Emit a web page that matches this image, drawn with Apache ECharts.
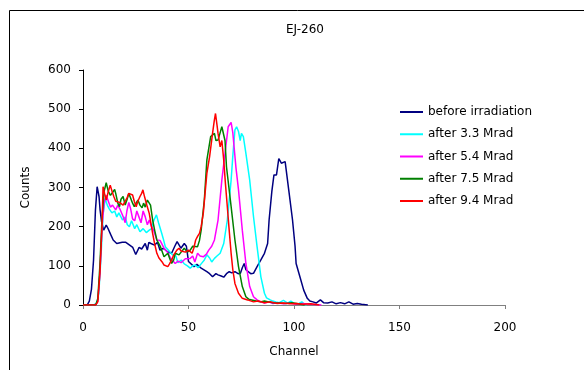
<!DOCTYPE html>
<html>
<head>
<meta charset="utf-8">
<script src="https://cdn.jsdelivr.net/npm/echarts@6/dist/echarts.min.js"></script>
<style>html,body{margin:0;padding:0;background:#fff;}#c{width:584px;height:370px;}</style>
</head>
<body>
<div id="c"></div>
<script>
const seriesNames = ['before irradiation','after 3.3 Mrad','after 5.4 Mrad','after 7.5 Mrad','after 9.4 Mrad'];
const xTicks = [0,50,100,150,200];
const yTicks = [0,100,200,300,400,500,600];

const beforeX = [0,2,3,4,5,5.9,6.7,7.6,8.1,8.8,9.8,11,11.8,13.2,14.3,15.2,16,16.9,18.6,20.3,21.1,23.6,25,26.6,27.8,29.5,30.5,31.2,32.2,33.9,35.3,36.5,38.2,40,42,43.5,44.6,46.4,48,49,50,52.6,54,56,58.7,60,61.4,63,64,65.5,66.7,68,69.3,70.5,72,73.5,74.6,75.5,76.4,77.2,78,79.5,80.8,82.5,84.3,86,87.5,88.2,89.5,90.5,91.7,92.8,94,95.8,97.5,99.3,100.5,101,102.8,104.6,106.3,107.5,109,110.5,112.5,114,116,118,120,122,124,126,128,130,132,135];
const beforeY = [0,0,10,40,115,243,302,277,243,213,191,204,196,179,166,170,157,160,160,160,157,147,129,147,143,157,140,160,157,153,160,140,145,136,132,150,162,145,157,150,111,98,104,94,85,80,72,80,77,74,71,80,85,82,85,80,81,95,106,90,85,80,81,98,115,132,157,217,290,332,332,374,362,366,294,217,150,106,72,38,17,10,8,5,13,6,5,8,3,6,3,8,2,4,2,0];

const m33X = [0,5,6.5,7.5,8.5,9.5,10.5,11.5,12.5,13.7,15,16,17,18.7,20,21,22,23,24.5,25.5,27,28.5,30,31.4,32.5,33.5,34.8,35.8,37.3,38,39,40.5,42.4,44,45,46.6,48,49.5,50.8,52,53.3,54.5,56,57.5,58.7,60,61,62.3,63.5,65,66.7,68.4,70.2,71,72,72.8,73.7,74.5,75.1,76,77.2,79,80.8,82.5,84.3,86,87,88.7,90,91.4,93,95,97,98.5,100,102,103.7,105,106];
const m33Y = [0,0,5,30,120,230,272,255,245,235,240,225,235,217,225,205,200,215,195,205,187,195,185,191,195,215,230,210,183,170,149,140,128,125,108,115,105,100,94,100,102,95,105,115,128,120,110,119,125,132,157,217,319,380,447,455,443,420,438,430,387,319,226,149,72,30,18,13,10,8,6,12,5,10,4,3,8,2,0];

const m54X = [0,6,7,8,9,10,11,12,13,14,15.5,16.5,17.5,19,20,20.8,21.7,22.6,23.5,24.5,25.5,26.5,27.5,28.5,29.5,30.5,31.4,32.5,33.5,35,36.5,38.4,40,41.5,43.7,45,46.5,47.3,48.5,50.8,52,53,54.3,55.5,57,58.5,59.6,61,62.3,64,65.8,67.5,68.8,70.2,71,71.6,72.5,73.7,75.5,77.2,79,80.8,82.5,84.3,86,88,90,92,95,98,101,104,108,113];
const m54Y = [0,0,10,80,200,260,280,265,250,255,243,255,245,226,210,240,262,245,220,215,240,225,210,240,225,205,217,200,190,166,165,145,135,120,106,112,108,111,118,119,125,110,132,125,123,130,140,150,166,217,319,396,455,466,440,404,350,294,191,106,47,21,13,8,5,8,4,6,3,5,2,4,2,0];

const m75X = [0,6,7,8,9,10,11,12,13,13.8,15,15.5,16.5,17.3,18,19,20,20.8,21.7,22.6,23.5,24.3,25.2,26,27,28,28.7,29.5,30.5,31.4,32,33,34,35,36.7,38.4,39.2,40.2,41,42,43,43.7,45.5,46.5,48,49.5,50.8,52,52.6,54.3,55.2,56,57.5,58.7,60.5,62.3,63,64,65,65.8,66.7,67.3,68,70.2,72,73.7,75.5,77.2,78.5,80,82,84,86,88,90,93,96,99,102,105];
const m75Y = [0,0,15,100,220,290,312,290,280,277,295,285,260,251,270,277,255,268,285,281,260,251,260,268,255,248,260,250,268,272,255,217,190,166,149,123,125,132,120,106,115,132,128,135,145,135,140,150,153,149,165,191,268,370,430,438,420,421,440,455,460,420,353,251,166,98,47,21,15,13,10,8,10,8,6,5,4,6,3,0];

const m94X = [0,6,7,8,9,9.5,10.2,11,12,12.9,13.8,14.6,15.5,16.4,17.3,18.2,19,19.9,21,21.7,22.6,23.5,24.3,25.2,26,27,27.8,28.4,29,29.6,30.5,31.4,32,33,34,35,36,36.7,37.5,38.4,39.3,40.2,41,42,43,43.7,44.5,45.5,46.5,47.3,48.5,50,50.8,51.7,52.5,53.4,54.3,55.2,56,57,58.7,60,61.4,62.2,62.8,63.5,64,65,65.8,66.7,67.5,68.4,69.3,70.2,71,72,73.7,75.5,78,80.8,83,86,89,92,95,98,101,104,108,112];
const m94Y = [0,0,8,80,200,302,285,268,290,306,290,277,265,260,262,264,255,260,275,285,283,281,265,251,265,277,285,294,280,268,250,234,215,183,155,132,120,115,110,102,100,98,105,115,128,132,140,145,138,140,135,140,135,132,145,166,175,183,200,234,336,379,438,470,489,460,438,404,420,370,310,251,190,132,90,55,30,17,13,8,10,6,8,4,5,3,4,2,3,0];

const colors = ['#000080','#00FFFF','#FF00FF','#008000','#FF0000'];
const xs = [beforeX, m33X, m54X, m75X, m94X];
const ys = [beforeY, m33Y, m54Y, m75Y, m94Y];

const font = 'DejaVu Sans, sans-serif';
const chart = echarts.init(document.getElementById('c'), null, {renderer:'canvas'});
chart.setOption({
  animation: false,
  backgroundColor: '#fff',
  title: {
    text: 'EJ-260', left: 305, top: 24, textAlign: 'center', padding: 0,
    textStyle: {fontFamily: font, fontSize: 12, fontWeight: 'normal', color: '#000'}
  },
  graphic: [{
    type: 'rect', shape: {x: 9.5, y: 10.5, width: 700, height: 500},
    style: {fill: 'none', stroke: '#000', lineWidth: 1}, silent: true
  }],
  legend: {
    orient: 'vertical', left: 400, top: 106, padding: 0,
    itemWidth: 23, itemHeight: 2, itemGap: 10.25, icon: 'rect',
    textStyle: {fontFamily: font, fontSize: 12, color: '#000'},
    data: seriesNames
  },
  grid: {left: 83, right: 79, top: 70, bottom: 65, containLabel: false},
  xAxis: {
    type: 'value', min: 0, max: 200, interval: 50,
    name: 'Channel', nameLocation: 'middle', nameGap: 41,
    nameTextStyle: {fontFamily: font, fontSize: 12, color: '#000'},
    axisLine: {show: true, lineStyle: {color: '#808080', width: 1}},
    axisTick: {show: true, inside: false, length: 4, lineStyle: {color: '#808080'}},
    axisLabel: {fontFamily: font, fontSize: 12, color: '#000', margin: 17, formatter: v => xTicks.includes(v) ? String(v) : ''},
    splitLine: {show: false}
  },
  yAxis: {
    type: 'value', min: 0, max: 600, interval: 100,
    name: 'Counts', nameLocation: 'middle', nameGap: 51, nameRotate: 90,
    nameTextStyle: {fontFamily: font, fontSize: 12, color: '#000'},
    axisLine: {show: true, lineStyle: {color: '#000', width: 1}},
    axisTick: {show: true, inside: false, length: 4, lineStyle: {color: '#000'}},
    axisLabel: {fontFamily: font, fontSize: 12, color: '#000', margin: 12, formatter: v => yTicks.includes(v) ? String(v) : ''},
    splitLine: {show: false}
  },
  series: seriesNames.map((n, i) => ({
    name: n, type: 'line', showSymbol: false, symbol: 'none',
    data: xs[i].map((x, j) => [x, ys[i][j]]),
    lineStyle: {color: colors[i], width: 1.5},
    itemStyle: {color: colors[i]},
    z: 2 + i
  }))
});
</script>
</body>
</html>
